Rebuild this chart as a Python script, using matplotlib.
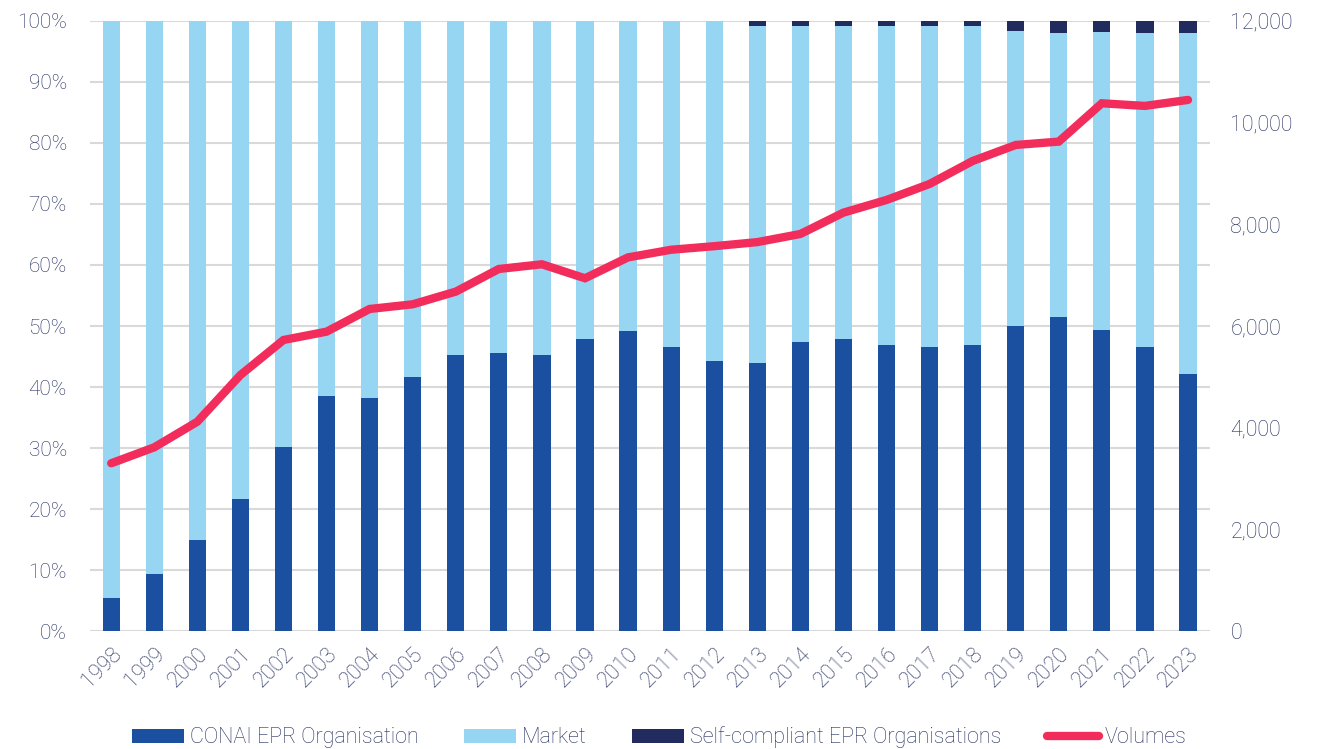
import numpy as np
import matplotlib
matplotlib.use("Agg")
import matplotlib.pyplot as plt
from matplotlib.ticker import FuncFormatter

years = [str(y) for y in range(1998, 2024)]
conai_share = [5.4, 9.4, 14.9, 21.6, 30.2, 38.5, 38.2, 41.7, 45.3, 45.5, 45.2, 47.9, 49.1,
               46.6, 44.2, 43.9, 47.3, 47.9, 46.9, 46.5, 46.9, 50.0, 51.4, 49.4, 46.5, 42.2]
self_share = [0, 0, 0, 0, 0, 0, 0, 0, 0, 0, 0, 0, 0,
              0, 0, 0.8, 0.9, 0.8, 0.9, 0.8, 0.8, 1.6, 2.0, 1.8, 2.0, 2.0]
volumes = [3300, 3614, 4118, 5036, 5725, 5889, 6335, 6427, 6676, 7122, 7214, 6939, 7350,
           7500, 7570, 7650, 7810, 8230, 8479, 8794, 9246, 9561, 9627, 10381, 10329, 10447]

conai = np.array(conai_share)
selfc = np.array(self_share)
market = 100 - conai - selfc

c_conai = '#1B50A0'
c_market = '#97D6F3'
c_self = '#212B5E'
c_vol = '#F22D5C'
c_text = '#222D5E'

plt.rcParams['font.family'] = ['Roboto', 'DejaVu Sans']

fig = plt.figure(figsize=(13.19, 7.49), dpi=100)
ax = fig.add_axes([0.068, 0.1575, 0.849, 0.8145])
x = np.arange(len(years))
w = 0.40

ax.bar(x, conai, w, color=c_conai, label='CONAI EPR Organisation', zorder=2)
ax.bar(x, market, w, bottom=conai, color=c_market, label='Market', zorder=2)
ax.bar(x, selfc, w, bottom=conai + market, color=c_self, label='Self-compliant EPR Organisations', zorder=2)

ax.set_ylim(0, 100)
ax.set_xlim(-0.5, 25.5)
ax.set_yticks(np.arange(0, 101, 10))
ax.yaxis.set_major_formatter(FuncFormatter(lambda v, p: f'{int(v)}%'))
ax.grid(axis='y', color='#D9D9D9', linewidth=1.5, zorder=0)
ax.set_axisbelow(True)
for s in ax.spines.values():
    s.set_visible(False)
ax.tick_params(length=0, labelsize=15, labelcolor=c_text, pad=16.5)
ax.set_xticks(x)
ax.set_xticklabels(years, rotation=45, ha='right', rotation_mode='anchor')
ax.tick_params(axis='x', labelsize=15.5, pad=9)
for lbl in ax.get_xticklabels() + ax.get_yticklabels():
    lbl.set_fontweight('light')
    lbl.set_color(c_text)

ax2 = ax.twinx()
ax2.plot(x, volumes, color=c_vol, linewidth=6, solid_capstyle='round',
         solid_joinstyle='miter', label='Volumes', zorder=3)
ax2.set_ylim(0, 12000)
ax2.set_yticks(np.arange(0, 12001, 2000))
ax2.yaxis.set_major_formatter(FuncFormatter(lambda v, p: f'{int(v):,}'))
for s in ax2.spines.values():
    s.set_visible(False)
ax2.tick_params(length=0, labelsize=15.5, labelcolor=c_text, pad=15)
for lbl in ax2.get_yticklabels():
    lbl.set_fontweight('light')
    lbl.set_color(c_text)

h1, l1 = ax.get_legend_handles_labels()
h2, l2 = ax2.get_legend_handles_labels()
leg = fig.legend(h1 + h2, l1 + l2, loc='lower center', bbox_to_anchor=(0.5, -0.025),
                 ncol=4, frameon=False, fontsize=15.5, handlelength=2.4, handleheight=0.6,
                 handletextpad=0.3, columnspacing=2.1)
for t in leg.get_texts():
    t.set_color(c_text)
    t.set_fontweight('light')

fig.savefig('out.png', dpi=100)
